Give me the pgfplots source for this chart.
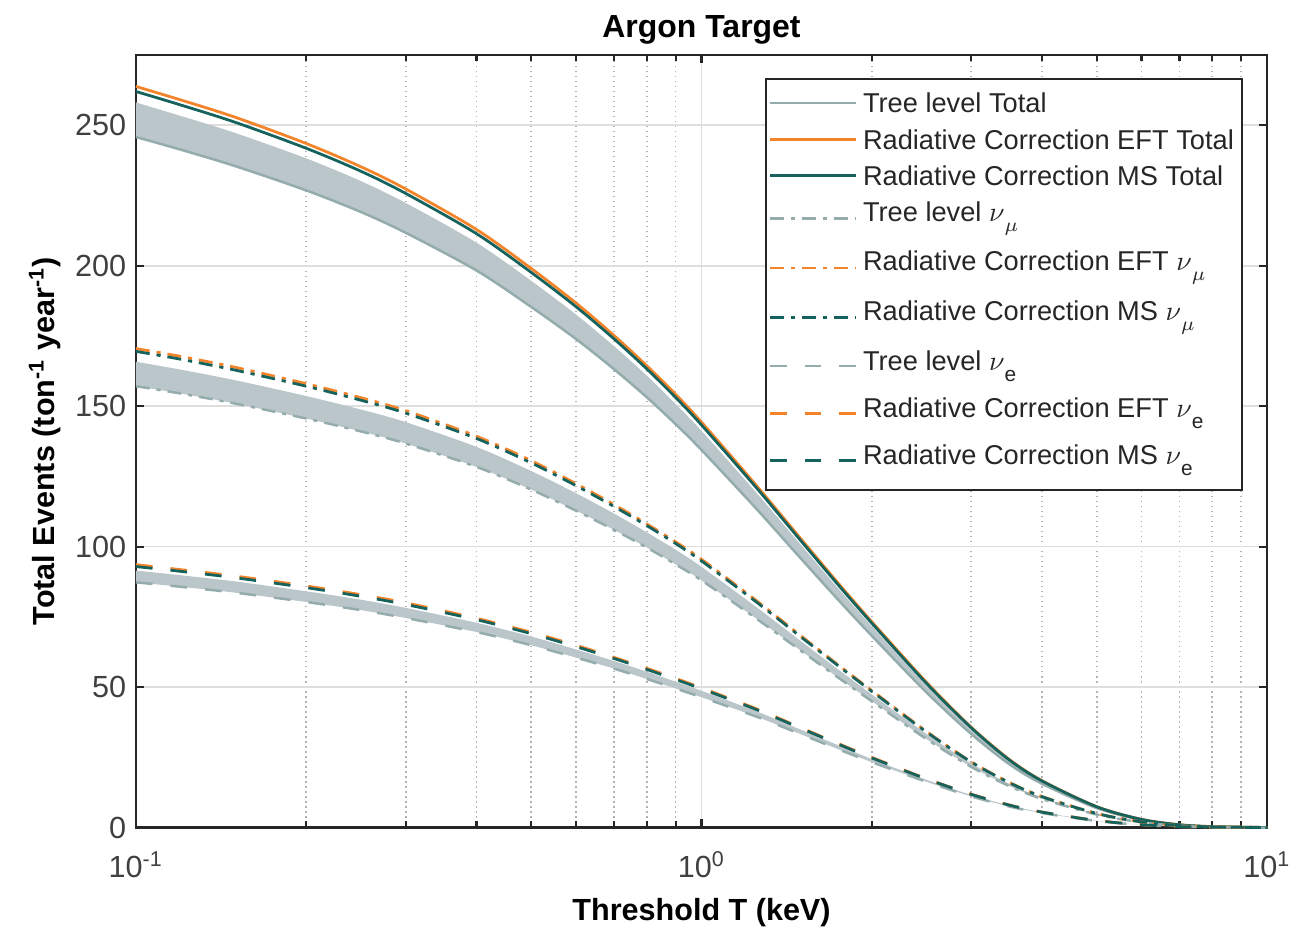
\documentclass[border=0pt]{standalone}
\usepackage{pgfplots}
\pgfplotsset{compat=1.18}
\usepackage{pgfplotstable}
\usepgfplotslibrary{fillbetween}
\usepackage{fontspec}
\setmainfont{Liberation Sans}

\definecolor{cOr}{RGB}{243,132,42}
\definecolor{cMS}{RGB}{22,98,93}
\definecolor{cTr}{RGB}{148,172,172}
\definecolor{cFill}{RGB}{186,198,202}
\definecolor{cAx}{RGB}{38,38,38}

\newcommand{\subm}[1]{\raisebox{-3.6pt}{\fontsize{7.5}{8}\selectfont #1}}
\newcommand{\sube}[1]{\raisebox{-4pt}{\fontsize{7.5}{8}\selectfont #1}}

% Total
\pgfplotstableread{
x eft ms top bot
0.1 263.8 262 258.1 245.8
0.12 259.0 257.2 253.3 241.3
0.15 252.8 251.0 247.2 235.4
0.2 243.5 241.8 238.2 226.8
0.25 235.2 233.6 230.1 219.1
0.3 227.3 225.7 222.3 211.7
0.4 212.9 211.4 208.2 198.3
0.5 199.0 197.6 194.6 185.3
0.6 186.7 185.4 182.6 173.9
0.7 175.2 174.0 171.4 163.2
0.8 164.4 163.3 160.9 153.2
0.9 154.2 153.1 150.8 143.6
1 144.3 143.3 141.2 134.4
1.25 121.8 121.0 119.2 113.5
1.5 102.7 102.0 100.5 95.7
1.75 86.7 86.1 84.8 80.8
2 73.3 72.8 71.7 68.3
2.5 51.7 51.3 50.5 48.1
3 35.7 35.5 35.0 33.3
3.5 24.3 24.1 23.7 22.6
4 16.7 16.6 16.4 15.6
5 7.45 7.4 7.29 6.94
6 2.92 2.9 2.86 2.72
7 1.01 1.0 0.99 0.94
8 0.35 0.35 0.34 0.33
10 0.03 0.03 0.03 0.03
}\tot

% nu_mu
\pgfplotstableread{
x eft ms top bot
0.1 170.5 169.5 165.8 157.1
0.12 167.7 166.7 163.0 154.5
0.15 163.8 162.8 159.2 150.9
0.2 158.0 157.1 153.6 145.6
0.25 153.0 152.1 148.8 141.0
0.3 148.4 147.5 144.3 136.7
0.4 139.3 138.5 135.5 128.4
0.5 130.6 129.8 126.9 120.3
0.6 122.4 121.7 119.0 112.8
0.7 115.0 114.3 111.8 106.0
0.8 108.1 107.5 105.1 99.7
0.9 101.7 101.1 98.9 93.7
1 95.5 94.9 92.8 88.0
1.25 80.8 80.3 78.5 74.4
1.5 68.2 67.8 66.3 62.9
1.75 57.7 57.4 56.1 53.2
2 48.8 48.5 47.4 45.0
2.5 34.2 34.0 33.3 31.5
3 23.4 23.3 22.8 21.6
3.5 16.1 16.0 15.6 14.8
4 11.07 11.0 10.76 10.2
5 5.03 5.0 4.89 4.64
6 2.01 2.0 1.96 1.85
7 0.7 0.7 0.68 0.65
8 0.25 0.25 0.24 0.23
10 0.01 0.01 0.01 0.01
}\numu

% nu_e
\pgfplotstableread{
x eft ms top bot
0.1 93.6 92.9 91.5 87.3
0.12 91.8 91.2 89.8 85.7
0.15 89.5 88.9 87.6 83.6
0.2 86.0 85.4 84.1 80.3
0.25 82.9 82.3 81.1 77.4
0.3 80.0 79.4 78.2 74.6
0.4 74.5 74.0 72.9 69.6
0.5 69.5 69.0 68.0 64.9
0.6 64.9 64.4 63.4 60.5
0.7 60.6 60.2 59.3 56.6
0.8 56.7 56.3 55.5 52.9
0.9 53.1 52.7 51.9 49.5
1 49.7 49.4 48.7 46.4
1.25 42.3 42.0 41.4 39.5
1.5 35.5 35.3 34.8 33.2
1.75 29.8 29.6 29.2 27.8
2 25.0 24.8 24.4 23.3
2.5 17.4 17.3 17.0 16.3
3 11.9 11.8 11.6 11.1
3.5 8.06 8.0 7.88 7.52
4 5.54 5.5 5.42 5.17
5 2.52 2.5 2.46 2.35
6 1.01 1.0 0.99 0.94
7 0.35 0.35 0.34 0.33
8 0.12 0.12 0.12 0.11
10 0.01 0.01 0.01 0.01
}\nue

\begin{document}
\begin{tikzpicture}
\begin{axis}[
  scale only axis, width=407pt, height=278pt,
  xmode=log, xmin=0.1, xmax=10, ymin=0, ymax=275,
  clip=false,
  xtick={0.1,1,10},
  xticklabels={10\textsuperscript{-1},10\textsuperscript{0},10\textsuperscript{1}},
  minor xtick={0.2,0.3,0.4,0.5,0.6,0.7,0.8,0.9,2,3,4,5,6,7,8,9},
  ytick={0,50,100,150,200,250},
  /pgf/number format/assume math mode=true,
  ticklabel style={font=\fontsize{11}{13}\selectfont, text=black!75},
  xticklabel style={yshift=-5pt, inner xsep=0pt},
  ymajorgrids, xmajorgrids, xminorgrids,
  major grid style={color=black!13, line width=0.6pt},
  minor grid style={color=black!30, line width=0.6pt, dash pattern=on 0.6pt off 1.2pt},
  axis line style={cAx, line width=0.8pt},
  tick style={cAx, line width=0.8pt},
  major tick length=3pt, minor tick length=2.2pt,
  tick align=inside,
  title={\bfseries Argon Target},
  every axis title shift=0pt,
  title style={at={(rel axis cs:0.5,1.0324)}, anchor=center, font=\fontsize{11.5}{13}\selectfont},
  xlabel={\bfseries Threshold T (keV)},
  xlabel style={at={(rel axis cs:0.5,-0.110)}, anchor=center, font=\fontsize{11}{13}\selectfont},
  ylabel={\bfseries Total Events (ton\textsuperscript{-1} year\textsuperscript{-1})},
  ylabel style={at={(rel axis cs:-0.0805,0.5)}, anchor=center, font=\fontsize{11}{13}\selectfont},
  legend style={at={(0.979,0.970)}, anchor=north east, font=\fontsize{9.8}{11}\selectfont,
    draw=cAx, line width=0.8pt, inner xsep=1pt, inner ysep=3pt, row sep=1.8pt,
    text=black!85, nodes={inner sep=2pt, text depth=}},
  legend cell align=left,
  legend image code/.code={\draw[#1] (0pt,0pt) -- (31pt,0pt);},
]
% bands
\addplot[name path=tt, draw=none, forget plot, smooth] table[x=x,y=top]{\tot};
\addplot[name path=tb, draw=none, forget plot, smooth] table[x=x,y=bot]{\tot};
\addplot[cFill, forget plot] fill between[of=tt and tb];
\addplot[name path=mt, draw=none, forget plot, smooth] table[x=x,y=top]{\numu};
\addplot[name path=mb, draw=none, forget plot, smooth] table[x=x,y=bot]{\numu};
\addplot[cFill, forget plot] fill between[of=mt and mb];
\addplot[name path=et, draw=none, forget plot, smooth] table[x=x,y=top]{\nue};
\addplot[name path=eb, draw=none, forget plot, smooth] table[x=x,y=bot]{\nue};
\addplot[cFill, forget plot] fill between[of=et and eb];

% totals
\addplot[cTr, line width=0.9pt, smooth] table[x=x,y=bot]{\tot};
\addlegendentry{Tree level Total}
\addplot[cOr, line width=1pt, smooth] table[x=x,y=eft]{\tot};
\addlegendentry{Radiative Correction EFT Total}
\addplot[cMS, line width=1pt, smooth] table[x=x,y=ms]{\tot};
\addlegendentry{Radiative Correction MS Total}
% nu_mu
\addplot[cTr, line width=0.9pt, smooth, dash pattern=on 5pt off 2.5pt on 1.5pt off 2.5pt] table[x=x,y=bot]{\numu};
\addlegendentry{Tree level $\nu$\subm{$\mu$}}
\addplot[cOr, line width=1pt, smooth, dash pattern=on 5pt off 2.5pt on 1.5pt off 2.5pt] table[x=x,y=eft]{\numu};
\addlegendentry{Radiative Correction EFT $\nu$\subm{$\mu$}}
\addplot[cMS, line width=1pt, smooth, dash pattern=on 5pt off 2.5pt on 1.5pt off 2.5pt] table[x=x,y=ms]{\numu};
\addlegendentry{Radiative Correction MS $\nu$\subm{$\mu$}}
% nu_e
\addplot[cTr, line width=0.9pt, smooth, dash pattern=on 6pt off 6.5pt] table[x=x,y=bot]{\nue};
\addlegendentry{Tree level $\nu$\sube{e}}
\addplot[cOr, line width=1pt, smooth, dash pattern=on 6pt off 6.5pt] table[x=x,y=eft]{\nue};
\addlegendentry{Radiative Correction EFT $\nu$\sube{e}}
\addplot[cMS, line width=1pt, smooth, dash pattern=on 6pt off 6.5pt] table[x=x,y=ms]{\nue};
\addlegendentry{Radiative Correction MS $\nu$\sube{e}}

\coordinate (bl) at (rel axis cs:-0.1202,-0.1373);
\coordinate (tr) at (rel axis cs:1.0212,1.0712);
\end{axis}
\path (bl) rectangle (tr);
\end{tikzpicture}
\end{document}
